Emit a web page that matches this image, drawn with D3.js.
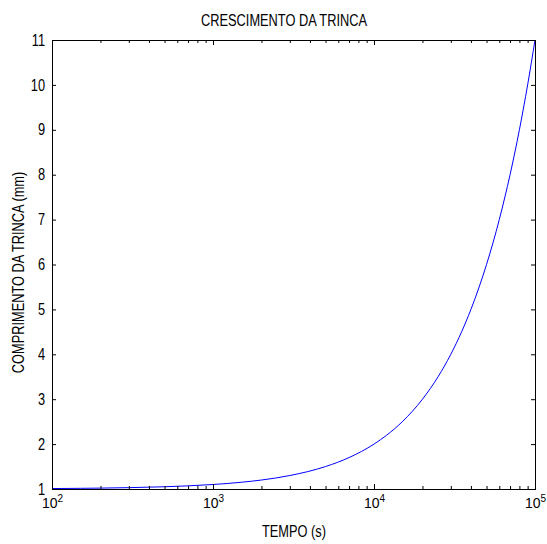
<!DOCTYPE html>
<html lang="en">
<head>
    <meta charset="UTF-8">
    <title>Crescimento da trinca</title>
    <script src="https://cdn.jsdelivr.net/npm/d3@7/dist/d3.min.js"></script>
    <style>
        body{ margin:0; background:#fff; }
        text{ font-family: "Liberation Sans", Arial, sans-serif; fill:#000; }
        .axis text{ font-size:16px; }
        .axis.xlab text{ font-size:14px; }
        .axis line{ stroke:#000; }
        path.crack{ fill:none; stroke:#0000ff; stroke-width:1px; }
    </style>
</head>
<body>
<svg id="main" width="547" height="544"></svg>
<script>
    // crack length (time in s, length in mm)
    let tempo = [100, 150, 200, 300, 500, 700, 1000, 1500, 2000, 3000, 5000, 7000,
                 10000, 12000, 15000, 20000, 25000, 30000, 35000, 40000, 45000, 50000,
                 60000, 70000, 80000, 90000, 100000];
    let comprimento = [1.01, 1.015, 1.02, 1.03, 1.05, 1.07, 1.1, 1.15, 1.2, 1.3, 1.5, 1.7,
                       2.0, 2.2, 2.5, 3.0, 3.5, 4.0, 4.5, 5.0, 5.5, 6.0,
                       7.0, 8.0, 9.0, 10.0, 11.0];
    let xMajor = [1e2, 1e3, 1e4, 1e5];
    let yTicks = [1, 2, 3, 4, 5, 6, 7, 8, 9, 10, 11];

    let svg = d3.select('svg#main');
    let box = {left:52, right:535, top:40, bottom:489};

    let xScale = d3.scaleLog().domain([1e2, 1e5]).range([box.left, box.right]);
    let yScale = d3.scaleLinear().domain([1, 11]).range([box.bottom, box.top]);

    // minor ticks 2..9 in each decade
    let xMinor = [];
    xMajor.slice(0, -1).forEach(function(d){
        for (let k = 2; k < 10; k++) xMinor.push(d * k);
    });

    let data = tempo.map(function(t, i){ return {t:t, a:comprimento[i]}; });
    let line = d3.line()
        .x(function(d){ return xScale(d.t); })
        .y(function(d){ return yScale(d.a); })
        .curve(d3.curveMonotoneX);

    svg.append('path').datum(data).attr('class', 'crack').attr('d', line);

    // bottom axis, major ticks with 10^n labels
    let xb = svg.append('g').attr('class', 'axis xlab')
        .attr('transform', 'translate(0,' + box.bottom + ')')
        .call(d3.axisBottom(xScale).tickValues(xMajor).tickSize(-5).tickPadding(9).tickFormat(''));
    xb.selectAll('.tick text').each(function(d){
        let t = d3.select(this);
        t.append('tspan').text('10');
        t.append('tspan').attr('dy', '-0.6em').style('font-size', '10px').text(Math.round(Math.log10(d)));
    });
    svg.append('g').attr('class', 'axis')
        .attr('transform', 'translate(0,' + box.bottom + ')')
        .call(d3.axisBottom(xScale).tickValues(xMinor).tickSize(-3).tickFormat(''));
    // top axis
    svg.append('g').attr('class', 'axis')
        .attr('transform', 'translate(0,' + box.top + ')')
        .call(d3.axisTop(xScale).tickValues(xMajor).tickSize(-5).tickFormat(''));
    svg.append('g').attr('class', 'axis')
        .attr('transform', 'translate(0,' + box.top + ')')
        .call(d3.axisTop(xScale).tickValues(xMinor).tickSize(-3).tickFormat(''));
    // left / right axes
    svg.append('g').attr('class', 'axis ylab')
        .attr('transform', 'translate(' + box.left + ',0)')
        .call(d3.axisLeft(yScale).tickValues(yTicks).tickSize(-4).tickPadding(7).tickFormat(d3.format('d')));
    svg.append('g').attr('class', 'axis')
        .attr('transform', 'translate(' + box.right + ',0)')
        .call(d3.axisRight(yScale).tickValues(yTicks).tickSize(-4).tickFormat(''));
    svg.selectAll('.axis .domain').remove();

    svg.append('rect')
        .attr('x', box.left + 0.5).attr('y', box.top + 0.5)
        .attr('width', box.right - box.left).attr('height', box.bottom - box.top)
        .attr('fill', 'none').attr('stroke', '#000');

    // titles
    svg.append('text').attr('class', 'narrow').attr('x', 284).attr('y', 26)
        .attr('text-anchor', 'middle').style('font-size', '16px')
        .text('CRESCIMENTO DA TRINCA');
    svg.append('text').attr('class', 'narrow').attr('x', 294).attr('y', 537)
        .attr('text-anchor', 'middle').style('font-size', '16px')
        .text('TEMPO (s)');
    svg.append('text').attr('class', 'narrow')
        .attr('transform', 'translate(24,' + ((box.top + box.bottom) / 2 + 8) + ') rotate(-90)')
        .attr('text-anchor', 'middle').style('font-size', '16px')
        .text('COMPRIMENTO DA TRINCA (mm)');

    // narrow the glyphs like the original rasterised font
    svg.selectAll('text.narrow, .ylab .tick text').each(function(){
        let len = this.getComputedTextLength();
        if (len > 0) d3.select(this).attr('textLength', len * 0.8).attr('lengthAdjust', 'spacingAndGlyphs');
    });
</script>
</body>
</html>
